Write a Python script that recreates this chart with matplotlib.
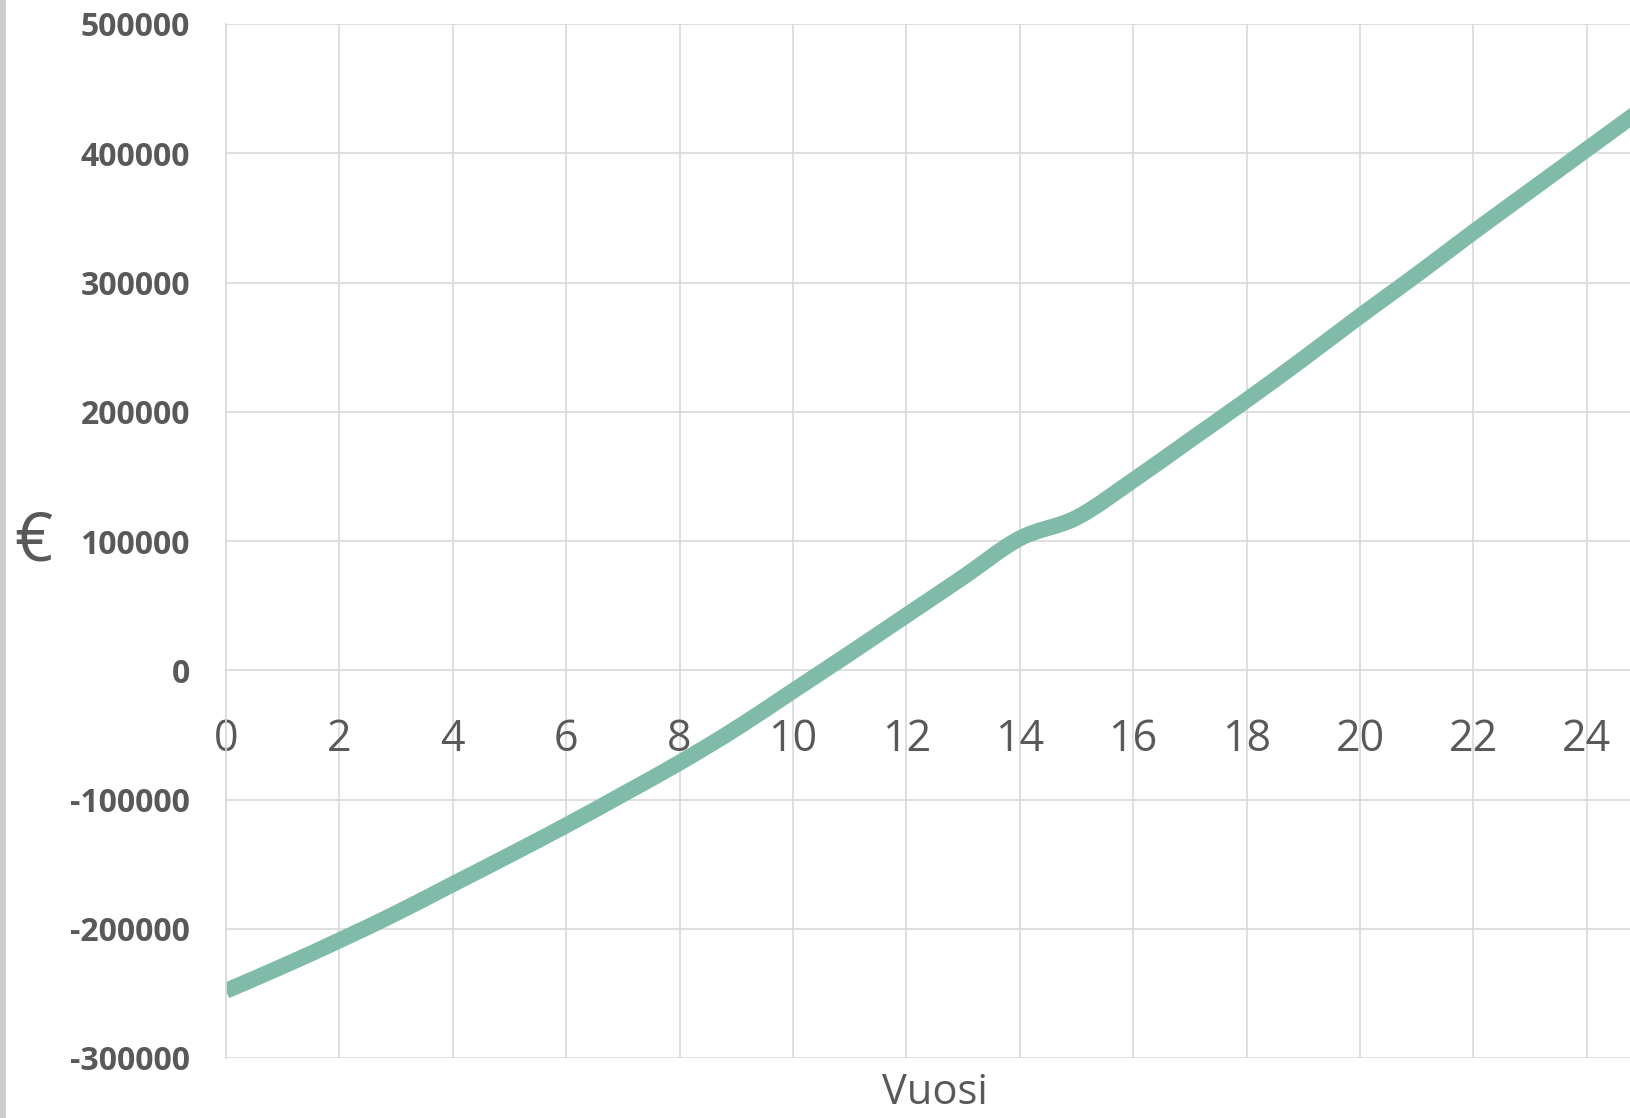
import numpy as np
import matplotlib
matplotlib.use("Agg")
import matplotlib.pyplot as plt
from matplotlib.path import Path
from matplotlib.patches import PathPatch, Rectangle

# ── data ──────────────────────────────────────────────────────────────────────
years = list(range(0, 26))
cash = [-248000, -229000, -209000, -188000, -165500, -143000, -120000,
        -96000, -71500, -45000, -16000, 13000, 42500, 72000, 102000,
        118000, 147000, 178000, 209000, 241000, 274000, 306000, 339000,
        371000, 403000, 435000]
x_ticks = list(range(0, 25, 2))
y_ticks = list(range(-300000, 500001, 100000))

LINE_COLOR = "#7fbba8"
GRID_COLOR = "#d9d9d9"
TEXT_COLOR = "#595959"
FONT = "Open Sans"

plt.rcParams["axes.unicode_minus"] = False


def smooth_path(xs, ys):
    """Excel-style smoothed line: bezier segments through every point."""
    pts = np.column_stack([xs, ys]).astype(float)
    n = len(pts)
    verts = [pts[0]]
    codes = [Path.MOVETO]
    for i in range(n - 1):
        p0 = pts[max(i - 1, 0)]
        p1 = pts[i]
        p2 = pts[i + 1]
        p3 = pts[min(i + 2, n - 1)]
        c1 = p1 + (p2 - p0) / 6.0
        c2 = p2 - (p3 - p1) / 6.0
        verts += [c1, c2, p2]
        codes += [Path.CURVE4] * 3
    return Path(verts, codes)


fig = plt.figure(figsize=(16.31, 11.18), dpi=100)
ax = fig.add_axes([226 / 1631, 1 - 1058 / 1118, 1 - 226 / 1631,
                   (1058 - 24) / 1118])

ax.set_xlim(0, 24.78)
ax.set_ylim(-300000, 500000)
ax.set_xticks(x_ticks)
ax.set_yticks(y_ticks)
ax.grid(True, color=GRID_COLOR, linewidth=1.2)
ax.set_axisbelow(True)

patch = PathPatch(smooth_path(years, cash), fill=False,
                  edgecolor=LINE_COLOR, linewidth=11.5,
                  capstyle="butt", joinstyle="round")
ax.add_patch(patch)

# x axis crosses at zero, labels hang below it
ax.spines["bottom"].set_position(("data", 0))
for side in ["bottom", "top", "right"]:
    ax.spines[side].set_visible(False)
ax.spines["left"].set_color(GRID_COLOR)
ax.spines["left"].set_linewidth(1.2)

ax.tick_params(axis="x", length=0, pad=34, labelsize=31,
               labelcolor=TEXT_COLOR)
ax.tick_params(axis="y", length=0, pad=26, labelsize=23,
               labelcolor=TEXT_COLOR)
for lbl in ax.get_xticklabels():
    lbl.set_fontfamily(FONT)
for lbl in ax.get_yticklabels():
    lbl.set_fontfamily(FONT)
    lbl.set_fontweight("bold")

fig.text(33 / 1631, 1 - 543 / 1118, "€", fontsize=48, color=TEXT_COLOR,
         family=FONT, ha="center", va="center")
fig.text(935 / 1631, 4 / 1118, "Vuosi", fontsize=30,
         color=TEXT_COLOR, family=FONT, ha="center", va="bottom")

# textured strip at the very left of the screenshot
fig.patches.append(Rectangle((0, 0), 6 / 1631, 1, transform=fig.transFigure,
                             facecolor="#cdcdcd", edgecolor="none"))

fig.savefig("out.png", dpi=100)
